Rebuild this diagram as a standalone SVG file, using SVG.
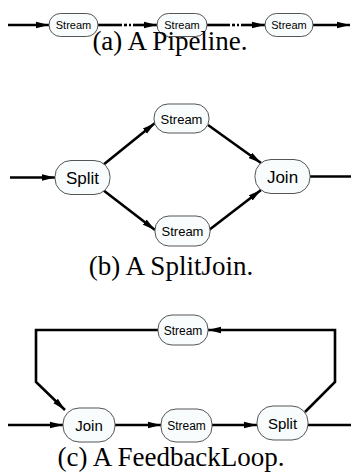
<svg xmlns="http://www.w3.org/2000/svg" width="351" height="474" viewBox="0 0 351 474">
<defs>
<marker id="ah" markerUnits="userSpaceOnUse" markerWidth="14" markerHeight="8" refX="13" refY="4" orient="auto">
<path d="M0,0.8 L13,4 L0,7.2 Z" fill="#000"/>
</marker>
</defs>
<style>
.n{fill:#f9fcfc;stroke:#555;stroke-width:1}
.e{fill:none;stroke:#000;stroke-width:2.6}
.t{font-family:"Liberation Sans",Arial,sans-serif;fill:#000;text-anchor:middle;dominant-baseline:central}
.c{font-family:"Liberation Serif","Times New Roman",serif;font-size:27px;fill:#000;text-anchor:middle}
</style>
<rect width="351" height="474" fill="#fff"/>
<g id="connectors">
<line class="e" x1="8" y1="25" x2="49" y2="25" marker-end="url(#ah)"/>
<line class="e" x1="98" y1="25" x2="122" y2="25"/>
<line class="e" x1="124" y1="25" x2="127" y2="25"/>
<line class="e" x1="129" y1="25" x2="131" y2="25"/>
<line class="e" x1="133" y1="25" x2="157" y2="25" marker-end="url(#ah)"/>
<line class="e" x1="207" y1="25" x2="230" y2="25"/>
<line class="e" x1="232" y1="25" x2="235" y2="25"/>
<line class="e" x1="237" y1="25" x2="239" y2="25"/>
<line class="e" x1="241" y1="25" x2="265" y2="25" marker-end="url(#ah)"/>
<line class="e" x1="313" y1="25" x2="350" y2="25" marker-end="url(#ah)"/>
<line class="e" x1="10" y1="177.5" x2="55" y2="177.5" marker-end="url(#ah)"/>
<line class="e" x1="103" y1="165" x2="155" y2="123" marker-end="url(#ah)"/>
<line class="e" x1="208" y1="125" x2="261" y2="163" marker-end="url(#ah)"/>
<line class="e" x1="103" y1="190" x2="155" y2="230" marker-end="url(#ah)"/>
<line class="e" x1="209" y1="230" x2="261" y2="190" marker-end="url(#ah)"/>
<line class="e" x1="310" y1="176.5" x2="351" y2="176.5"/>
<line class="e" x1="8" y1="425" x2="63" y2="425" marker-end="url(#ah)"/>
<line class="e" x1="115" y1="425" x2="161" y2="425" marker-end="url(#ah)"/>
<line class="e" x1="212" y1="425" x2="257" y2="425" marker-end="url(#ah)"/>
<line class="e" x1="308" y1="425" x2="351" y2="425"/>
<polyline class="e" points="305,412 335,382 335,330 208,330" marker-end="url(#ah)"/>
<polyline class="e" points="158,330 36,330 36,382 65,410" marker-end="url(#ah)"/>
</g>
<g id="pipe-s1"><rect class="n" x="49" y="13.5" width="49" height="23" rx="11.5"/><text class="t" x="73.5" y="25" font-size="11">Stream</text></g>
<g id="pipe-s2"><rect class="n" x="157" y="13.5" width="50" height="23" rx="11.5"/><text class="t" x="182" y="25" font-size="11">Stream</text></g>
<g id="pipe-s3"><rect class="n" x="265" y="13.5" width="48" height="23" rx="11.5"/><text class="t" x="289" y="25" font-size="11">Stream</text></g>
<text class="c" x="170" y="50">(a) A Pipeline.</text>
<g id="sj-split"><rect class="n" x="55" y="160.5" width="55" height="34" rx="16"/><text class="t" x="82.5" y="178" font-size="17">Split</text></g>
<g id="sj-s1"><rect class="n" x="154" y="104" width="55" height="29" rx="14"/><text class="t" x="181.5" y="119" font-size="13">Stream</text></g>
<g id="sj-s2"><rect class="n" x="155" y="216" width="55" height="30" rx="14"/><text class="t" x="182.5" y="231.5" font-size="13">Stream</text></g>
<g id="sj-join"><rect class="n" x="255" y="159.5" width="55" height="34" rx="16"/><text class="t" x="282.5" y="177" font-size="17">Join</text></g>
<text class="c" x="171" y="275">(b) A SplitJoin.</text>
<g id="fb-s-top"><rect class="n" x="158" y="315" width="50" height="30" rx="14"/><text class="t" x="183" y="330.5" font-size="12">Stream</text></g>
<g id="fb-join"><rect class="n" x="63" y="408" width="52" height="34" rx="16"/><text class="t" x="89" y="425" font-size="15">Join</text></g>
<g id="fb-stream"><rect class="n" x="161" y="409" width="51" height="33" rx="15"/><text class="t" x="186.5" y="426" font-size="12">Stream</text></g>
<g id="fb-split"><rect class="n" x="257" y="406" width="51" height="34" rx="16"/><text class="t" x="282.5" y="423" font-size="15">Split</text></g>
<text class="c" x="171" y="466">(c) A FeedbackLoop.</text>
</svg>
